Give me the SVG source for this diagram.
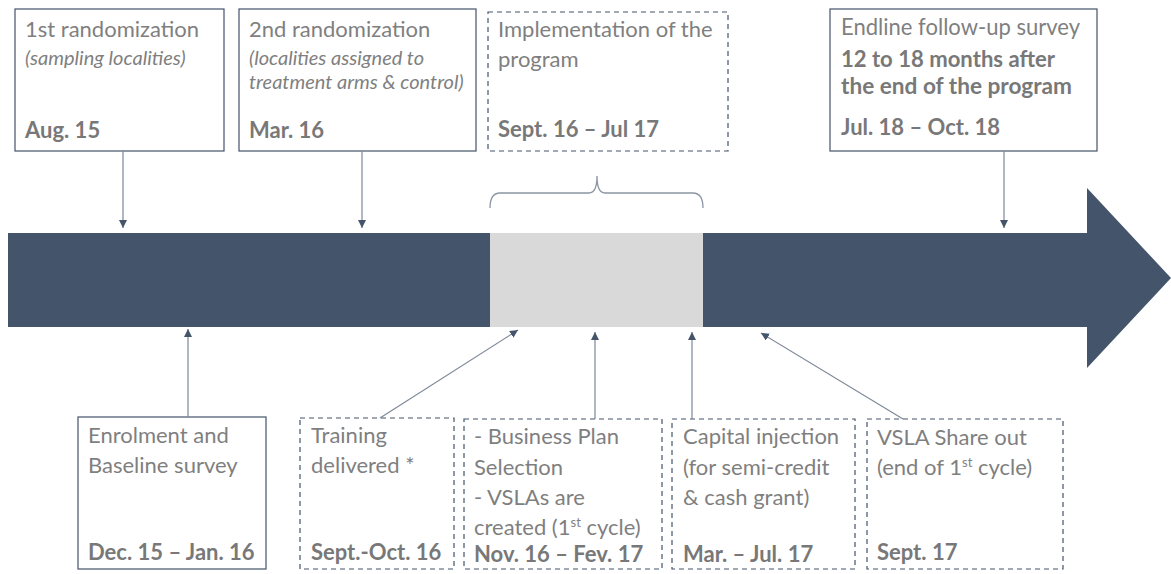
<svg xmlns="http://www.w3.org/2000/svg" width="1171" height="574" viewBox="0 0 1171 574">
  <style>
    .box { fill: #ffffff; stroke: #44546A; stroke-width: 1.2; }
    .dash { stroke-dasharray: 5 4; }
    .t { font-family: Lato, "Liberation Sans", sans-serif; font-size: 22px; fill: #7F7F7F; }
    .it { font-style: italic; font-size: 20px; }
    .b { font-weight: bold; font-size: 22px; fill: #787878; }
    .big { font-size: 23px; }
    .bigb { font-size: 23px; }
    .sup { font-size: 13px; }
    .conn { stroke: #7E8898; stroke-width: 1.2; fill: none; }
    .brace { stroke: #8C95A3; stroke-width: 1.3; fill: none; }
  </style>
  <defs>
    <marker id="head" viewBox="0 0 10 10" refX="10" refY="5" markerWidth="8" markerHeight="8" markerUnits="userSpaceOnUse" orient="auto">
      <path d="M0,0 L10,5 L0,10 Z" fill="#44546A"/>
    </marker>
  </defs>

  <!-- timeline arrow -->
  <g id="timeline">
    <polygon points="8,233 1087,233 1087,188 1171,278 1087,368 1087,327 8,327" fill="#44546A"/>
    <rect x="490" y="233" width="213" height="94" fill="#D9D9D9"/>
  </g>

  <!-- brace over the implementation period -->
  <g id="brace">
    <path class="brace" d="M490,208 Q490,193 500,193 L589,193 Q597,193 597,176 Q597,193 605,193 L693,193 Q703,193 703,208"/>
  </g>

  <!-- top boxes -->
  <g id="rand1">
    <rect class="box" x="15" y="9" width="209" height="142"/>
    <text class="t" x="25" y="37">1st randomization</text>
    <text class="t it" x="25" y="65">(sampling localities)</text>
    <text class="t b" x="25" y="138">Aug. 15</text>
  </g>
  <g id="rand2">
    <rect class="box" x="239" y="9" width="237" height="142"/>
    <text class="t" x="249" y="37">2nd randomization</text>
    <text class="t it" x="249" y="65">(localities assigned to</text>
    <text class="t it" x="249" y="89">treatment arms &amp; control)</text>
    <text class="t b" x="249" y="138">Mar. 16</text>
  </g>
  <g id="implementation">
    <rect class="box dash" x="488" y="12" width="240" height="139"/>
    <text class="t" x="498" y="37">Implementation of the</text>
    <text class="t" x="498" y="67">program</text>
    <text class="t b" x="498" y="137">Sept. 16 – Jul 17</text>
  </g>
  <g id="endline">
    <rect class="box" x="830" y="9" width="267" height="142"/>
    <text class="t big" x="841" y="35" textLength="239" lengthAdjust="spacingAndGlyphs">Endline follow-up survey</text>
    <text class="t b bigb" x="841" y="67" textLength="214" lengthAdjust="spacingAndGlyphs">12 to 18 months after</text>
    <text class="t b bigb" x="841" y="94" textLength="231" lengthAdjust="spacingAndGlyphs">the end of the program</text>
    <text class="t b" x="841" y="135">Jul. 18 – Oct. 18</text>
  </g>

  <!-- bottom boxes -->
  <g id="baseline">
    <rect class="box" x="78" y="417" width="188" height="152"/>
    <text class="t" x="88" y="443">Enrolment and</text>
    <text class="t" x="88" y="473">Baseline survey</text>
    <text class="t b" x="88" y="560">Dec. 15 – Jan. 16</text>
  </g>
  <g id="training">
    <rect class="box dash" x="300" y="418" width="154" height="151"/>
    <text class="t" x="311" y="443">Training</text>
    <text class="t" x="311" y="473">delivered *</text>
    <text class="t b" x="311" y="560">Sept.-Oct. 16</text>
  </g>
  <g id="business">
    <rect class="box dash" x="464" y="419" width="198" height="150"/>
    <text class="t" x="474" y="444">- Business Plan</text>
    <text class="t" x="474" y="475">Selection</text>
    <text class="t" x="474" y="505">- VSLAs are</text>
    <text class="t" x="474" y="535">created (1<tspan class="sup" dy="-8">st</tspan><tspan dy="8"> cycle)</tspan></text>
    <text class="t b" x="474" y="562">Nov. 16 – Fev. 17</text>
  </g>
  <g id="capital">
    <rect class="box dash" x="672" y="419" width="183" height="150"/>
    <text class="t" x="683" y="444">Capital injection</text>
    <text class="t" x="683" y="475">(for semi-credit</text>
    <text class="t" x="683" y="505">&amp; cash grant)</text>
    <text class="t b" x="683" y="562">Mar. – Jul. 17</text>
  </g>
  <g id="shareout">
    <rect class="box dash" x="867" y="419" width="196" height="150"/>
    <text class="t" x="877" y="445">VSLA Share out</text>
    <text class="t" x="877" y="475">(end of 1<tspan class="sup" dy="-8">st</tspan><tspan dy="8"> cycle)</tspan></text>
    <text class="t b" x="877" y="560">Sept. 17</text>
  </g>

  <!-- connectors -->
  <g id="connectors">
    <line class="conn" x1="123" y1="151" x2="123" y2="228" marker-end="url(#head)"/>
    <line class="conn" x1="362" y1="151" x2="362" y2="228" marker-end="url(#head)"/>
    <line class="conn" x1="1004" y1="151" x2="1004" y2="228" marker-end="url(#head)"/>
    <line class="conn" x1="188" y1="417" x2="188" y2="329" marker-end="url(#head)"/>
    <line class="conn" x1="380" y1="418" x2="518" y2="330" marker-end="url(#head)"/>
    <line class="conn" x1="595" y1="419" x2="595" y2="332" marker-end="url(#head)"/>
    <line class="conn" x1="692" y1="419" x2="692" y2="332" marker-end="url(#head)"/>
    <line class="conn" x1="903" y1="419" x2="761" y2="333" marker-end="url(#head)"/>
  </g>
</svg>
